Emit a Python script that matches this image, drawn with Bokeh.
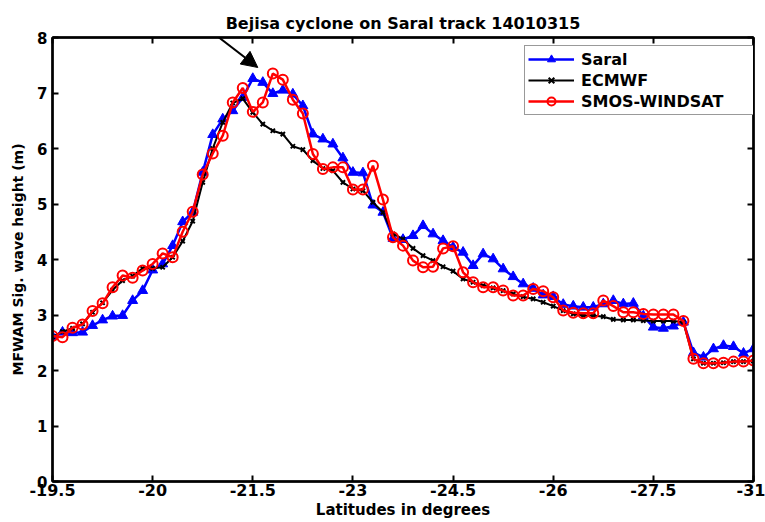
from bokeh.plotting import figure
from bokeh.models import (Range1d, LinearAxis, FixedTicker, Legend, LegendItem,
                          Arrow, NormalHead)
from bokeh.embed import file_html
from bokeh.resources import INLINE

# Along-track sample number (one sample per ~0.15 deg of latitude)
track_index = list(range(71))

# Significant wave height (m) along Saral track 14010315
saral = [2.61, 2.69, 2.68, 2.69, 2.81, 2.91, 2.98, 2.99, 3.26, 3.44,
         3.81, 3.92, 4.25, 4.68, 4.85, 5.57, 6.25, 6.53, 6.68, 6.92,
         7.26, 7.19, 6.99, 7.05, 6.98, 6.77, 6.26, 6.17, 6.08, 5.83,
         5.57, 5.56, 4.98, 4.85, 4.38, 4.36, 4.43, 4.61, 4.46, 4.34,
         4.22, 4.13, 3.89, 4.10, 4.01, 3.83, 3.69, 3.56, 3.48, 3.36,
         3.33, 3.19, 3.16, 3.14, 3.14, 3.20, 3.26, 3.20, 3.21, 2.98,
         2.78, 2.76, 2.80, 2.87, 2.32, 2.24, 2.39, 2.45, 2.43, 2.31,
         2.39]

ecmwf = [2.60, 2.70, 2.76, 2.84, 3.05, 3.22, 3.45, 3.62, 3.70, 3.84,
         3.84, 3.86, 4.04, 4.33, 4.69, 5.39, 6.00, 6.47, 6.82, 6.90,
         6.65, 6.44, 6.32, 6.26, 6.04, 5.98, 5.78, 5.64, 5.60, 5.39,
         5.27, 5.24, 5.03, 4.85, 4.46, 4.37, 4.20, 4.07, 3.98, 3.87,
         3.79, 3.65, 3.59, 3.53, 3.49, 3.44, 3.38, 3.33, 3.29, 3.23,
         3.16, 3.08, 3.02, 2.99, 2.99, 2.97, 2.92, 2.91, 2.91, 2.90,
         2.89, 2.89, 2.89, 2.87, 2.21, 2.13, 2.13, 2.14, 2.16, 2.16,
         2.17]

smos_windsat = [2.62, 2.60, 2.77, 2.83, 3.07, 3.21, 3.50, 3.71, 3.67, 3.80,
                3.92, 4.11, 4.04, 4.50, 4.86, 5.53, 5.91, 6.23, 6.83, 7.09,
                6.66, 6.83, 7.35, 7.24, 6.88, 6.63, 5.90, 5.63, 5.66, 5.66,
                5.26, 5.26, 5.69, 5.08, 4.40, 4.25, 3.98, 3.86, 3.87, 4.20,
                4.24, 3.77, 3.59, 3.50, 3.50, 3.44, 3.35, 3.35, 3.47, 3.43,
                3.32, 3.08, 3.04, 3.03, 3.03, 3.26, 3.16, 3.05, 3.05, 3.02,
                3.01, 3.01, 3.01, 2.89, 2.21, 2.13, 2.13, 2.14, 2.16, 2.16,
                2.18]

x_tick_positions = [0, 10, 20, 30, 40, 50, 60, 70]
x_tick_labels = ["-19.5", "-20", "-21.5", "-23", "-24.5", "-26", "-27.5", "-31"]
y_ticks = [0, 1, 2, 3, 4, 5, 6, 7, 8]

FONT = "DejaVu Sans"

p = figure(width=765, height=522, x_range=Range1d(0, 70), y_range=Range1d(0, 8),
           output_backend="svg", toolbar_location=None,
           min_border_left=52, min_border_right=12,
           min_border_top=37, min_border_bottom=41)

p.title.text = "Bejisa cyclone on Saral track 14010315"
p.title.align = "center"
p.title.text_font = FONT
p.title.text_font_style = "bold"
p.title.text_font_size = "16px"
p.title.text_color = "black"
p.title.standoff = 10

p.xgrid.visible = False
p.ygrid.visible = False
p.outline_line_color = "black"
p.outline_line_width = 2
p.background_fill_color = "white"
p.border_fill_color = "white"


def style_axis(ax, label_size):
    ax.axis_line_color = "black"
    ax.axis_line_width = 2.5
    ax.major_tick_in = 6
    ax.major_tick_out = 0
    ax.major_tick_line_width = 2
    ax.major_tick_line_color = "black"
    ax.minor_tick_line_color = None
    ax.major_label_text_font = FONT
    ax.major_label_text_font_style = "bold"
    ax.major_label_text_font_size = label_size
    ax.major_label_text_color = "black"
    ax.axis_label_text_font = FONT
    ax.axis_label_text_font_style = "bold"
    ax.axis_label_text_color = "black"


xa = p.xaxis[0]
xa.ticker = FixedTicker(ticks=x_tick_positions)
xa.major_label_overrides = {t: lab for t, lab in zip(x_tick_positions, x_tick_labels)}
style_axis(xa, "16px")
xa.major_label_standoff = 2
xa.axis_label = "Latitudes in degrees"
xa.axis_label_text_font_size = "15px"
xa.axis_label_standoff = 2

ya = p.yaxis[0]
ya.ticker = FixedTicker(ticks=y_ticks)
style_axis(ya, "15px")
ya.major_label_standoff = 5
ya.axis_label = "MFWAM Sig. wave height (m)"
ya.axis_label_text_font_size = "14px"
ya.axis_label_standoff = 8

# box-style ticks on the opposite sides
top_ax = LinearAxis(ticker=FixedTicker(ticks=x_tick_positions))
style_axis(top_ax, "0px")
top_ax.major_label_standoff = 0
p.add_layout(top_ax, "above")

right_ax = LinearAxis(ticker=FixedTicker(ticks=y_ticks))
style_axis(right_ax, "0px")
right_ax.major_label_standoff = 0
p.add_layout(right_ax, "right")

# series
l_saral = p.line(track_index, saral, line_color="blue", line_width=2.5)
m_saral = p.scatter(track_index, saral, marker="triangle", size=10,
                    fill_color="blue", line_color="blue")

l_ecmwf = p.line(track_index, ecmwf, line_color="black", line_width=2)
m_ecmwf = p.scatter(track_index, ecmwf, marker="x", size=6,
                    line_color="black", line_width=2)

l_smos = p.line(track_index, smos_windsat, line_color="red", line_width=2.5)
m_smos = p.scatter(track_index, smos_windsat, marker="circle", size=10,
                   fill_color=None, line_color="red", line_width=2)

legend = Legend(items=[
    LegendItem(label="Saral", renderers=[l_saral, m_saral]),
    LegendItem(label="ECMWF", renderers=[l_ecmwf, m_ecmwf]),
    LegendItem(label="SMOS-WINDSAT", renderers=[l_smos, m_smos]),
], location=(472, 366))
legend.label_text_font = FONT
legend.label_text_font_style = "bold"
legend.label_text_font_size = "16px"
legend.label_text_color = "black"
legend.padding = 3
legend.spacing = 1
legend.glyph_width = 46
legend.glyph_height = 20
legend.label_height = 20
legend.label_standoff = 7
legend.label_width = 170
legend.border_line_color = "#333333"
legend.border_line_width = 1
legend.background_fill_color = "white"
legend.background_fill_alpha = 1
legend.margin = 0
p.add_layout(legend, "center")

# arrow pointing at the cyclone peak
p.add_layout(Arrow(end=NormalHead(size=16, fill_color="black", line_color="black"),
                   x_start=11.6, y_start=8.7, x_end=20.5, y_end=7.46,
                   line_color="black", line_width=2))

open("out.html", "w").write(file_html(p, INLINE))
